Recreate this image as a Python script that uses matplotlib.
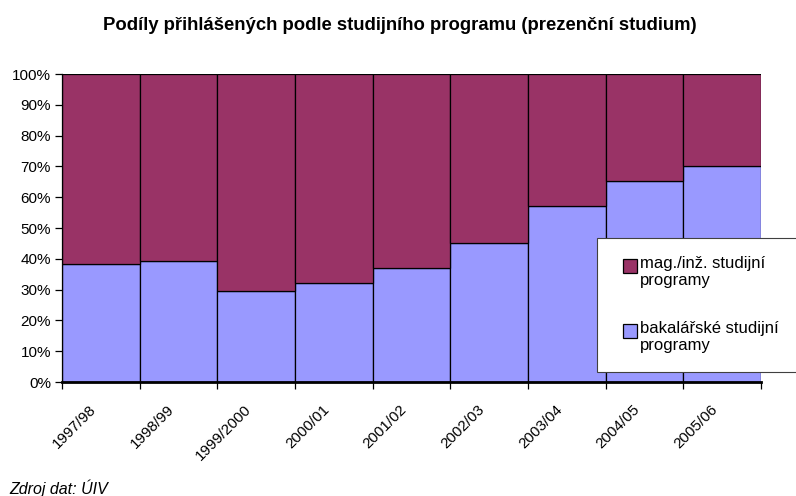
import matplotlib.pyplot as plt
from matplotlib.patches import Rectangle
from matplotlib.legend_handler import HandlerPatch
from matplotlib.ticker import FixedLocator, PercentFormatter
from matplotlib.transforms import ScaledTranslation
import numpy as np

years = ["1997/98", "1998/99", "1999/2000", "2000/01", "2001/02",
         "2002/03", "2003/04", "2004/05", "2005/06"]
bakalarske = [38.2, 39.2, 29.5, 32.0, 37.0, 45.0, 57.1, 65.2, 70.0]
magisterske = [100 - v for v in bakalarske]

plt.rcParams["font.family"] = ["Liberation Sans", "DejaVu Sans"]

fig = plt.figure(figsize=(7.96, 4.96), dpi=100)
ax = fig.add_axes([62 / 796, 1 - 382 / 496, 699 / 796, 308 / 496])

x = np.arange(len(years))
bars_bak = ax.bar(x, bakalarske, width=1.0, color="#9999FF", edgecolor="black",
                  linewidth=0.9)
bars_mag = ax.bar(x, magisterske, width=1.0, bottom=bakalarske, color="#993366",
                  edgecolor="black", linewidth=0.9)

ax.set_xlim(-0.5, len(years) - 0.5)
ax.set_ylim(0, 100)
ax.yaxis.set_major_locator(FixedLocator(np.arange(0, 101, 10)))
ax.yaxis.set_major_formatter(PercentFormatter(decimals=0))

ax.set_xticks(x)
ax.set_xticklabels(years, rotation=45, ha="right", va="center",
                   rotation_mode="anchor")
ax.xaxis.set_minor_locator(FixedLocator(np.arange(-0.5, len(years), 1)))
ax.tick_params(axis="x", which="major", length=0, pad=18, labelsize=10.9)
ax.tick_params(axis="x", which="minor", length=5, width=0.9)
ax.tick_params(axis="y", length=5, width=0.9, labelsize=11, pad=3)
shift = ScaledTranslation(-0.07, 0, fig.dpi_scale_trans)
for lbl in ax.get_xticklabels():
    lbl.set_transform(lbl.get_transform() + shift)

for side in ["top", "right"]:
    ax.spines[side].set_visible(False)
ax.spines["bottom"].set_linewidth(2)
ax.spines["left"].set_linewidth(0.9)


# square legend marker sitting next to the first line of the label
def top_square(legend, orig_handle, xdescent, ydescent, width, height, fontsize):
    s = 10
    return Rectangle((-xdescent + width - s + 2, -ydescent + height - s * 0.95), s, s)


leg = fig.legend([bars_mag.patches[0], bars_bak.patches[0]],
                 ["mag./inž. studijní\nprogramy", "bakalářské studijní\nprogramy"],
                 loc="upper left",
                 bbox_to_anchor=(597 / 796, 1 - 238 / 496, 210 / 796, 0),
                 mode="expand", frameon=True, fancybox=False, shadow=False,
                 framealpha=1, facecolor="white",
                 fontsize=12, handlelength=1.15, handleheight=2.1,
                 labelspacing=2.0, borderpad=1.1, handletextpad=0.3,
                 borderaxespad=0,
                 handler_map={Rectangle: HandlerPatch(patch_func=top_square)})
leg.get_frame().set_edgecolor("#404040")
leg.get_frame().set_linewidth(0.8)
for t in leg.get_texts():
    t.set_linespacing(1.15)

fig.text(400 / 796, 1 - 25 / 496,
         "Podíly přihlášených podle studijního programu (prezenční studium)",
         ha="center", va="center", fontsize=13.3, fontweight="bold")
fig.text(9 / 796, 1 - 488 / 496, "Zdroj dat: ÚIV", ha="left", va="center",
         fontsize=11.5, style="italic")

fig.savefig("out.png", dpi=100)
plt.close(fig)
